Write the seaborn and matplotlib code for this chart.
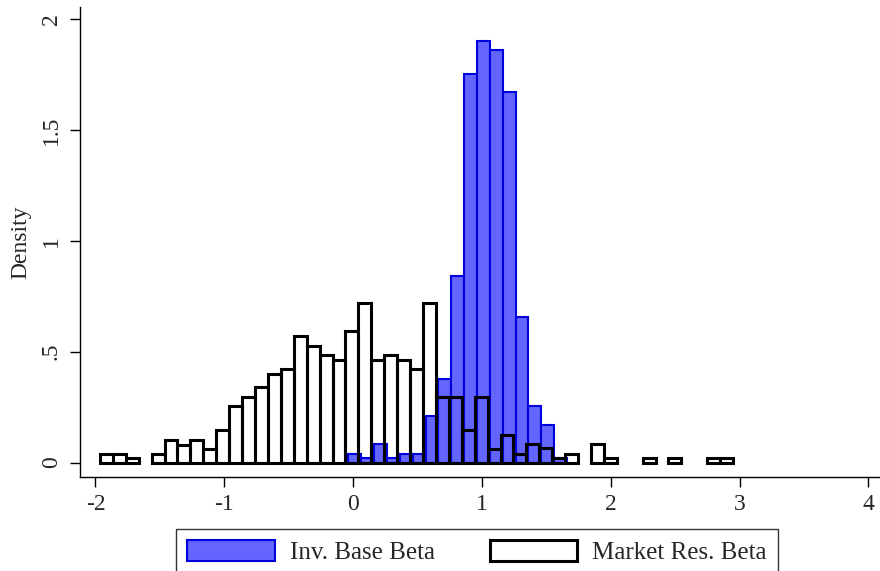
import numpy as np
import pandas as pd
import matplotlib
matplotlib.use('Agg')
import matplotlib.pyplot as plt
import seaborn as sns
from matplotlib.patches import Patch

# bin layout (bin width ~0.1)
blue_start, blue_width = -0.036, 0.0998
blue_density = [0.04, 0.02, 0.086, 0.02, 0.04, 0.04, 0.209, 0.377, 0.842,
                1.755, 1.903, 1.861, 1.670, 0.655, 0.254, 0.168, 0.02]

black_start, black_width = -1.965, 0.1003
black_density = [0.04, 0.04, 0.02, 0.0, 0.04, 0.104, 0.08, 0.104, 0.06, 0.146,
                 0.254, 0.296, 0.341, 0.40, 0.422, 0.569, 0.527, 0.486, 0.464, 0.592,
                 0.72, 0.464, 0.486, 0.464, 0.422, 0.72, 0.296, 0.296, 0.146, 0.296,
                 0.06, 0.126, 0.04, 0.086, 0.064, 0.02, 0.04, 0.0, 0.086, 0.02,
                 0.0, 0.0, 0.02, 0.0, 0.02, 0.0, 0.0, 0.02, 0.02]

x_ticks = [-2, -1, 0, 1, 2, 3, 4]
y_ticks = [0, 0.5, 1, 1.5, 2]
y_labels = ['0', '.5', '1', '1.5', '2']
series_labels = ['Inv. Base Beta', 'Market Res. Beta']


def make_frame(start, width, dens):
    centers = start + width * (np.arange(len(dens)) + 0.5)
    return pd.DataFrame({'x': centers, 'w': dens}), (start, start + width * len(dens))


sns.set_style('white')
plt.rcParams['font.family'] = ['Liberation Serif', 'DejaVu Serif']
FS = 17

fig = plt.figure(figsize=(8.8, 5.71), dpi=100)
ax = fig.add_axes([80 / 880, 94 / 571, 800 / 880, 470 / 571])

blue_df, blue_rng = make_frame(blue_start, blue_width, blue_density)
black_df, black_rng = make_frame(black_start, black_width, black_density)

sns.histplot(data=blue_df, x='x', weights='w', binwidth=blue_width, binrange=blue_rng,
             stat='count', color='#6464ff', alpha=1, edgecolor='#0000dd',
             linewidth=1.5, ax=ax)
sns.histplot(data=black_df, x='x', weights='w', binwidth=black_width, binrange=black_rng,
             stat='count', fill=False, color='black', edgecolor='black',
             linewidth=2.2, ax=ax)

# empty bins leave a gap, no flat line
for p in ax.patches:
    if p.get_height() <= 1e-9:
        p.set_visible(False)

ax.set_xlim(-2.12, 4.09)
ax.set_ylim(-0.065, 2.055)
ax.set_xticks(x_ticks)
ax.set_xticklabels([str(v) for v in x_ticks], fontsize=FS)
ax.set_yticks(y_ticks)
ax.set_yticklabels(y_labels, fontsize=FS, rotation=90, va='center')
ax.tick_params(axis='both', direction='out', length=7, width=1, color='black',
               bottom=True, left=True, pad=5)
ax.tick_params(axis='y', pad=6)
ax.set_xlabel('')
ax.set_ylabel('Density', fontsize=FS, labelpad=7)

for s in ['top', 'right']:
    ax.spines[s].set_visible(False)
for s in ['left', 'bottom']:
    ax.spines[s].set_color('black')
    ax.spines[s].set_linewidth(1)

handles = [Patch(facecolor='#6464ff', edgecolor='#0000dd', linewidth=1.5),
           Patch(facecolor='white', edgecolor='black', linewidth=2.2)]
leg = fig.legend(handles, series_labels, loc='upper center', ncol=2,
                 bbox_to_anchor=(0.542, 42 / 571), fontsize=18, frameon=True,
                 fancybox=False, edgecolor='black', handlelength=3.5, handleheight=0.9,
                 columnspacing=2.2, handletextpad=0.6, borderpad=0.45, borderaxespad=0)
leg.get_frame().set_linewidth(1)

fig.savefig('out.png', dpi=100)
